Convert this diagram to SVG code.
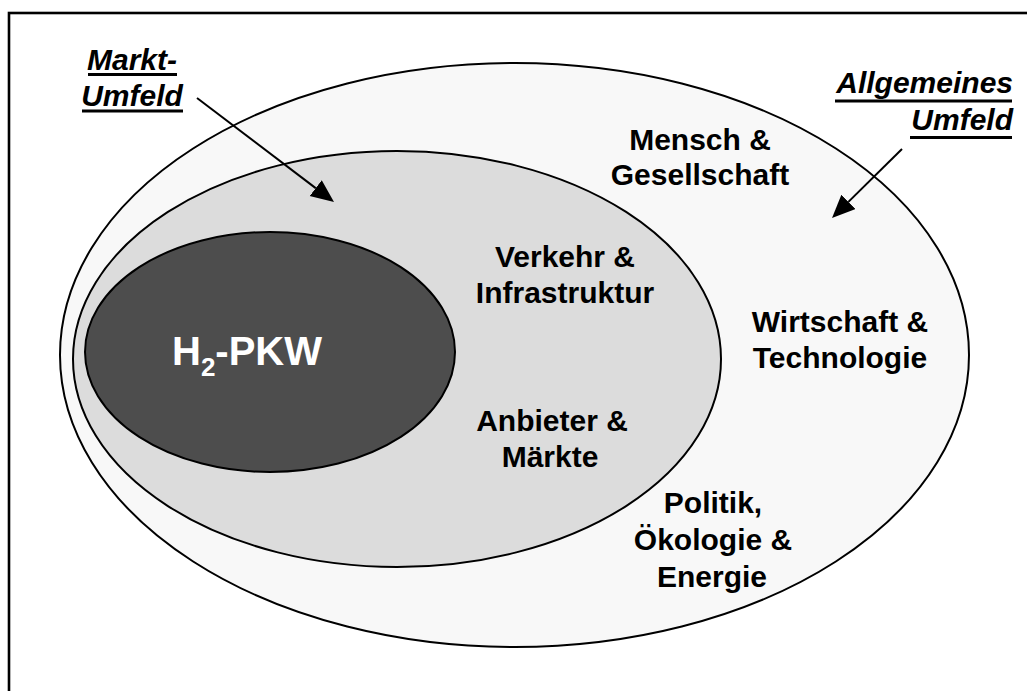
<svg xmlns="http://www.w3.org/2000/svg" width="1027" height="691" viewBox="0 0 1027 691">
<defs>
<style>
.lbl{font-family:"Liberation Sans",Arial,sans-serif;font-weight:bold;font-size:30px;fill:#000;text-anchor:middle}
.hdr{font-family:"Liberation Sans",Arial,sans-serif;font-weight:bold;font-style:italic;font-size:30px;fill:#000}
.ul{stroke:#000;stroke-width:3}
.ell{stroke:#000;stroke-width:2}
.conn{stroke:#000;stroke-width:2;fill:none}
</style>
<marker id="ah" markerUnits="userSpaceOnUse" markerWidth="24" markerHeight="22" refX="0" refY="10" orient="auto">
<path d="M0,0 L23,10 L0,20 z" fill="#000"/>
</marker>
</defs>
<rect x="0" y="0" width="1027" height="691" fill="#fff"/>
<rect x="9" y="13" width="1040" height="700" fill="none" stroke="#000" stroke-width="2.6"/>
<g id="allgemeines-umfeld">
<ellipse class="ell" cx="514.5" cy="355" rx="454.5" ry="292" fill="#f8f8f8"/>
</g>
<g id="markt-umfeld">
<ellipse class="ell" cx="397" cy="359" rx="324" ry="208" fill="#dcdcdc"/>
</g>
<g id="h2-pkw">
<ellipse class="ell" cx="270" cy="352" rx="185" ry="120" fill="#4d4d4d"/>
<text x="172" y="365" font-family="Liberation Sans, Arial, sans-serif" font-weight="bold" font-size="40" fill="#fff">H<tspan font-size="26" dy="11">2</tspan><tspan dy="-11">-PKW</tspan></text>
</g>
<g id="label-markt">
<text class="hdr" x="132" y="70" text-anchor="middle">Markt-</text>
<text class="hdr" x="132" y="106" text-anchor="middle">Umfeld</text>
<line class="ul" x1="88" y1="74.5" x2="177" y2="74.5"/>
<line class="ul" x1="82" y1="111" x2="183" y2="111"/>
</g>
<g id="label-allgemeines">
<text class="hdr" x="1013" y="93" text-anchor="end">Allgemeines</text>
<text class="hdr" x="1013" y="130" text-anchor="end">Umfeld</text>
<line class="ul" x1="835" y1="101" x2="1012" y2="101"/>
<line class="ul" x1="910" y1="137.5" x2="1012" y2="137.5"/>
</g>
<g id="mensch">
<text class="lbl" x="700" y="150">Mensch &amp;</text>
<text class="lbl" x="700" y="185">Gesellschaft</text>
</g>
<g id="verkehr">
<text class="lbl" x="565" y="267">Verkehr &amp;</text>
<text class="lbl" x="565" y="303">Infrastruktur</text>
</g>
<g id="anbieter">
<text class="lbl" x="552" y="431">Anbieter &amp;</text>
<text class="lbl" x="550" y="467">Märkte</text>
</g>
<g id="wirtschaft">
<text class="lbl" x="840" y="332">Wirtschaft &amp;</text>
<text class="lbl" x="840" y="368">Technologie</text>
</g>
<g id="politik">
<text class="lbl" x="713" y="513">Politik,</text>
<text class="lbl" x="713" y="550">Ökologie &amp;</text>
<text class="lbl" x="712" y="587">Energie</text>
</g>
<g id="connectors">
<path class="conn" d="M197,98 L315.7,188.1" marker-end="url(#ah)"/>
<path class="conn" d="M902,149 L848.4,201.9" marker-end="url(#ah)"/>
</g>
</svg>
